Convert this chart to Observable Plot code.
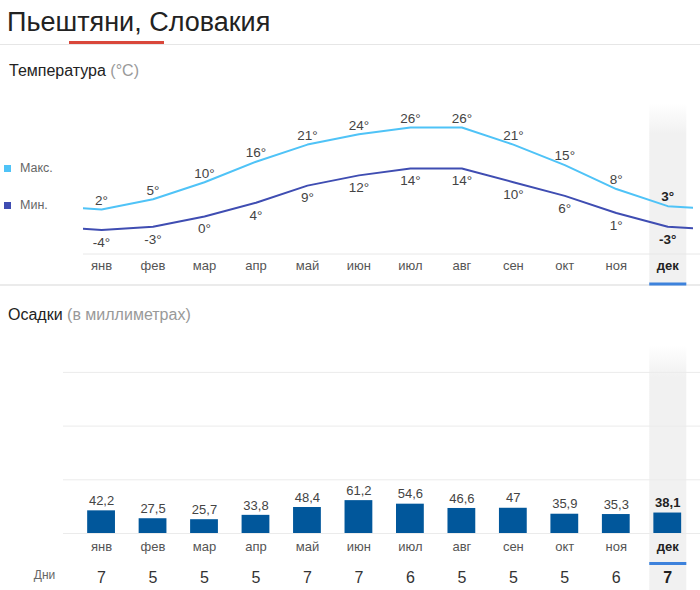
<!DOCTYPE html>
<html>
<head>
<meta charset="utf-8">
<script src="https://cdn.jsdelivr.net/npm/d3@7"></script>
<script src="https://cdn.jsdelivr.net/npm/@observablehq/plot@0.6"></script>
<style>
  html, body { margin: 0; padding: 0; background: #fff; }
  body { width: 700px; height: 590px; position: relative; overflow: hidden;
         font-family: "Liberation Sans", Arial, sans-serif; }
  .abs { position: absolute; white-space: nowrap; line-height: 1; }
  #title { left: 7px; top: 8.6px; font-size: 27px; color: #222; }
  #redline { left: 69px; top: 40.5px; width: 95px; height: 3px; background: #d9473a; }
  #sep1 { left: 0; top: 44px; width: 700px; height: 1px; background: #e6e6e6; }
  .head { font-size: 16px; color: #222; }
  .head span { color: #999; }
  #sep2 { left: 0; top: 284px; width: 700px; height: 2px; background: #ebebeb; }
  .leg { font-size: 12.5px; color: #666; }
  .sq { width: 7px; height: 7px; }
  #temp { position: absolute; left: 0; top: 90px; }
  #prec { position: absolute; left: 0; top: 340px; }
</style>
</head>
<body>
<div class="abs" id="title">Пьештяни, Словакия</div>
<div class="abs" id="redline"></div>
<div class="abs" id="sep1"></div>
<div class="abs head" style="left:9px; top:63.2px;">Температура <span>(°C)</span></div>
<div class="abs sq" id="sqMax" style="left:4px; top:165px;"></div>
<div class="abs leg" style="left:20px; top:162.2px;">Макс.</div>
<div class="abs sq" id="sqMin" style="left:4px; top:202px;"></div>
<div class="abs leg" style="left:20px; top:198.7px;">Мин.</div>
<div class="abs" id="sep2"></div>
<div class="abs head" style="left:8px; top:306.5px;">Осадки <span>(в миллиметрах)</span></div>
<div id="temp"></div>
<div id="prec"></div>
<script>
// ---- data ----
const months = ["янв","фев","мар","апр","май","июн","июл","авг","сен","окт","ноя","дек"];
const tempMax = [2, 5, 10, 16, 21, 24, 26, 26, 21, 15, 8, 3];
const tempMin = [-4, -3, 0, 4, 9, 12, 14, 14, 10, 6, 1, -3];
const precipitation = [42.2, 27.5, 25.7, 33.8, 48.4, 61.2, 54.6, 46.6, 47, 35.9, 35.3, 38.1];
const rainDays = [7, 5, 5, 5, 7, 7, 6, 5, 5, 5, 6, 7];
const selectedMonth = 11;

// ---- styles ----
const colMax = "#4fc3f7", colMin = "#3f4db2", colBar = "#01579b", colSel = "#3d82dc";
const font = "'Liberation Sans', Arial, sans-serif";
document.getElementById("sqMax").style.background = colMax;
document.getElementById("sqMin").style.background = colMin;

const idx = months.map((_, i) => i);
const xScale = {domain: [-0.351, 11.5], range: [83, 693]};
const notSel = (i) => i !== selectedMonth;

// cyclic line data: previous December before January, next January after December
function cyclic(vals) {
  const n = vals.length;
  return [{i: -1, v: vals[n - 1]}, ...vals.map((v, i) => ({i, v})), {i: n, v: vals[0]}];
}
const maxRows = idx.map(i => ({i, v: tempMax[i], m: months[i]}));
const minRows = idx.map(i => ({i, v: tempMin[i], m: months[i]}));

// ---- temperature chart ----
const temp = Plot.plot({
  width: 700, height: 200,
  marginLeft: 83, marginRight: 7, marginTop: 13, marginBottom: 6,
  x: {...xScale, axis: null},
  y: {domain: [-11, 30], range: [163.54, 23.32], axis: null},
  style: {fontFamily: font, background: "transparent", overflow: "visible"},
  marks: [
    Plot.rect([selectedMonth], {x1: d => d - 0.35, x2: d => d + 0.37, fill: "url(#hlT)"}),
    Plot.ruleY([-11], {stroke: "#e8e8e8", strokeWidth: 1, insetRight: -7}),
    Plot.line(cyclic(tempMax), {x: "i", y: "v", stroke: colMax, strokeWidth: 2, clip: "frame"}),
    Plot.line(cyclic(tempMin), {x: "i", y: "v", stroke: colMin, strokeWidth: 2, clip: "frame"}),
    Plot.text(maxRows, {filter: d => notSel(d.i), x: "i", y: "v", text: d => d.v + "°", dy: -9, fontSize: 13.5, fill: "#444"}),
    Plot.text(minRows, {filter: d => notSel(d.i), x: "i", y: "v", text: d => d.v + "°", dy: 12.5, fontSize: 13.5, fill: "#444"}),
    Plot.text(maxRows, {filter: d => !notSel(d.i), x: "i", y: "v", text: d => d.v + "°", dy: -9, fontSize: 13.5, fontWeight: "bold", fill: "#222"}),
    Plot.text(minRows, {filter: d => !notSel(d.i), x: "i", y: "v", text: d => d.v + "°", dy: 12.5, fontSize: 13.5, fontWeight: "bold", fill: "#222"}),
    Plot.text(maxRows, {filter: d => notSel(d.i), x: "i", y: () => -11, text: "m", dy: 11.6, fontSize: 13, fill: "#555"}),
    Plot.text(maxRows, {filter: d => !notSel(d.i), x: "i", y: () => -11, text: "m", dy: 11.6, fontSize: 13, fontWeight: "bold", fill: "#222"}),
    Plot.ruleY([-11], {x1: selectedMonth - 0.35, x2: selectedMonth + 0.37, dy: 30, stroke: colSel, strokeWidth: 3})
  ]
});
d3.select(temp).append("defs").html(
  '<linearGradient id="hlT" x1="0" y1="0" x2="0" y2="1">' +
  '<stop offset="0" stop-color="#f1f1f1" stop-opacity="0"/>' +
  '<stop offset="0.17" stop-color="#f1f1f1" stop-opacity="1"/>' +
  '<stop offset="1" stop-color="#f1f1f1" stop-opacity="1"/></linearGradient>');
document.getElementById("temp").appendChild(temp);

// ---- precipitation chart ----
const precRows = idx.map(i => ({i, v: precipitation[i], m: months[i], d: rainDays[i]}));
const fmt = v => String(v).replace(".", ",");
const prec = Plot.plot({
  width: 700, height: 250,
  marginLeft: 63, marginRight: 0, marginTop: 5, marginBottom: 0,
  x: {...xScale, axis: null},
  y: {domain: [0, 300], range: [193, 31.9], axis: null},
  style: {fontFamily: font, background: "transparent", overflow: "visible"},
  marks: [
    Plot.rect([selectedMonth], {x1: d => d - 0.35, x2: d => d + 0.37, fill: "url(#hlP)"}),
    Plot.ruleY([0, 100, 200, 300], {stroke: "#ebebeb", strokeWidth: 1}),
    Plot.rectY(precRows, {x1: d => d.i - 0.27, x2: d => d.i + 0.27, y: "v", fill: colBar}),
    Plot.text(precRows, {filter: d => notSel(d.i), x: "i", y: "v", text: d => fmt(d.v), dy: -10, fontSize: 13, fill: "#444"}),
    Plot.text(precRows, {filter: d => !notSel(d.i), x: "i", y: "v", text: d => fmt(d.v), dy: -10, fontSize: 13, fontWeight: "bold", fill: "#222"}),
    Plot.text(precRows, {filter: d => notSel(d.i), x: "i", y: () => 0, text: "m", dy: 13.5, fontSize: 13, fill: "#555"}),
    Plot.text(precRows, {filter: d => !notSel(d.i), x: "i", y: () => 0, text: "m", dy: 13.5, fontSize: 13, fontWeight: "bold", fill: "#222"}),
    Plot.text(precRows, {filter: d => notSel(d.i), x: "i", y: () => 0, text: d => String(d.d), dy: 44.2, fontSize: 16, fill: "#333"}),
    Plot.text(precRows, {filter: d => !notSel(d.i), x: "i", y: () => 0, text: d => String(d.d), dy: 44.2, fontSize: 16, fontWeight: "bold", fill: "#222"}),
    Plot.text(["Дни"], {frameAnchor: "left", textAnchor: "middle", y: () => 0, dx: -19, dy: 41.7, fontSize: 12, fill: "#666"}),
    Plot.ruleY([0], {x1: selectedMonth - 0.35, x2: selectedMonth + 0.37, dy: 30, stroke: colSel, strokeWidth: 3})
  ]
});
d3.select(prec).append("defs").html(
  '<linearGradient id="hlP" x1="0" y1="0" x2="0" y2="1">' +
  '<stop offset="0" stop-color="#f1f1f1" stop-opacity="0"/>' +
  '<stop offset="0.13" stop-color="#f1f1f1" stop-opacity="1"/>' +
  '<stop offset="1" stop-color="#f1f1f1" stop-opacity="1"/></linearGradient>');
document.getElementById("prec").appendChild(prec);
</script>
</body>
</html>
